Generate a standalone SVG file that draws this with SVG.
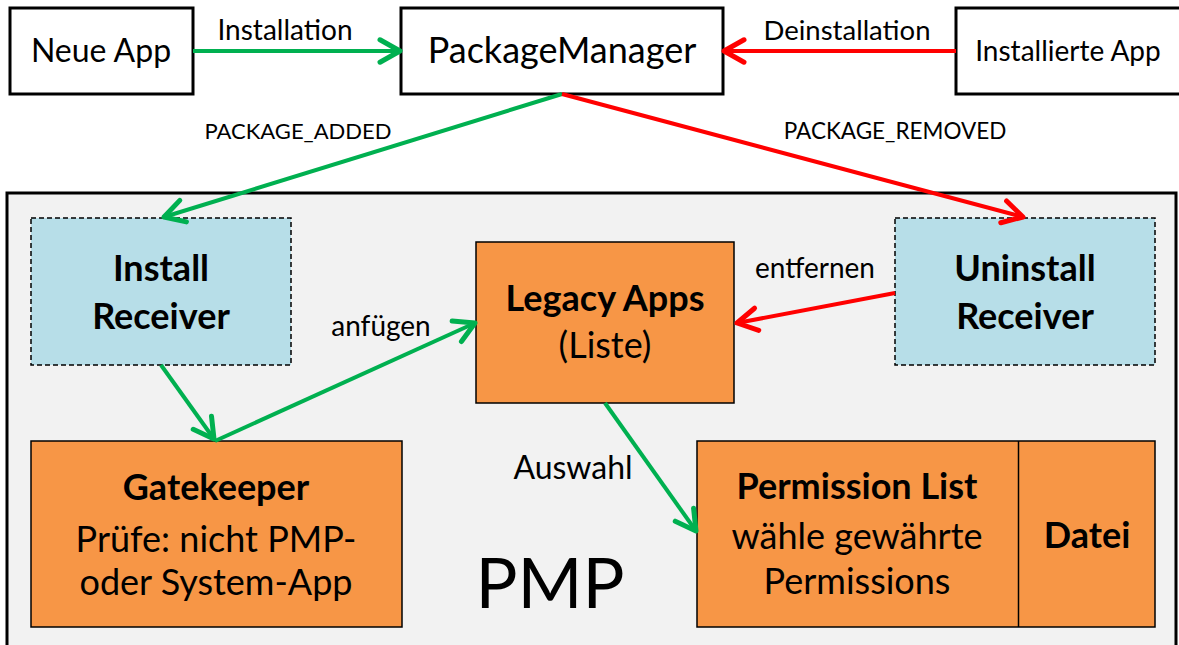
<svg xmlns="http://www.w3.org/2000/svg" width="1179" height="645" viewBox="0 0 1179 645">
  <style>
    text { font-family: Lato, "Open Sans", sans-serif; fill: #000; }
    .c { text-anchor: middle; }
    .b { font-weight: bold; }
    .t { font-size: 36px; }
    .top { fill: #fff; stroke: #000; stroke-width: 3; }
    .recv { fill: #b7dee8; stroke: #000; stroke-width: 1.5; stroke-dasharray: 5 3; }
    .box { fill: #f79646; stroke: #000; stroke-width: 1.5; }
    .g { stroke: #00b050; stroke-width: 4; fill: none; }
    .r { stroke: #ff0000; stroke-width: 4; fill: none; }
  </style>
  <defs>
    <marker id="ag" markerUnits="userSpaceOnUse" markerWidth="30" markerHeight="30" viewBox="-20 -12 24 24" refX="0" refY="0" orient="auto">
      <path d="M -16 -9 L 0 0 L -16 9" fill="none" stroke="#00b050" stroke-width="4" stroke-linecap="round" stroke-linejoin="round"/>
    </marker>
    <marker id="ar" markerUnits="userSpaceOnUse" markerWidth="30" markerHeight="30" viewBox="-20 -12 24 24" refX="0" refY="0" orient="auto">
      <path d="M -16 -9 L 0 0 L -16 9" fill="none" stroke="#ff0000" stroke-width="4" stroke-linecap="round" stroke-linejoin="round"/>
    </marker>
  </defs>

  <rect width="1179" height="645" fill="#fff"/>

  <!-- PMP container -->
  <g id="pmp">
    <rect x="7" y="193" width="1169" height="470" fill="#f2f2f2" stroke="#000" stroke-width="3"/>
    <text class="c" x="550" y="608" font-size="70">PMP</text>
  </g>

  <g id="neue-app">
    <rect class="top" x="10" y="8" width="183" height="86"/>
    <text class="c" x="101" y="62" font-size="32">Neue App</text>
  </g>
  <g id="package-manager">
    <rect class="top" x="401" y="8" width="322" height="86"/>
    <text class="c" x="562" y="63" font-size="36">PackageManager</text>
  </g>
  <g id="installierte-app">
    <rect class="top" x="956" y="8" width="228" height="86"/>
    <text class="c" x="1068" y="61" font-size="28">Installierte App</text>
  </g>

  <g id="install-receiver">
    <rect class="recv" x="31" y="218" width="260" height="147"/>
    <text class="c b t" x="161" y="281">Install</text>
    <text class="c b t" x="161" y="329">Receiver</text>
  </g>
  <g id="uninstall-receiver">
    <rect class="recv" x="895" y="218" width="260" height="147"/>
    <text class="c b t" x="1025" y="281">Uninstall</text>
    <text class="c b t" x="1025" y="329">Receiver</text>
  </g>
  <g id="legacy-apps">
    <rect class="box" x="476" y="242" width="258" height="161"/>
    <text class="c b t" x="605" y="311">Legacy Apps</text>
    <text class="c t" x="605" y="358">(Liste)</text>
  </g>
  <g id="gatekeeper">
    <rect class="box" x="31" y="441" width="371" height="186"/>
    <text class="c b t" x="216" y="500">Gatekeeper</text>
    <text class="c t" x="216" y="552">Prüfe: nicht PMP-</text>
    <text class="c t" x="216" y="595">oder System-App</text>
  </g>
  <g id="permission-list">
    <rect class="box" x="697" y="441" width="458" height="186"/>
    <line x1="1018.5" y1="441" x2="1018.5" y2="627" stroke="#000" stroke-width="1.5"/>
    <text class="c b t" x="857" y="499">Permission List</text>
    <text class="c t" x="857" y="549">wähle gewährte</text>
    <text class="c t" x="857" y="594">Permissions</text>
    <text class="c b t" x="1087" y="548">Datei</text>
  </g>

  <!-- connectors -->
  <g id="connectors">
    <line class="g" x1="193" y1="51" x2="400" y2="51" marker-end="url(#ag)"/>
    <line class="r" x1="956" y1="51" x2="724" y2="51" marker-end="url(#ar)"/>
    <line class="g" x1="562" y1="94" x2="164" y2="217" marker-end="url(#ag)"/>
    <line class="r" x1="562" y1="94" x2="1023" y2="217" marker-end="url(#ar)"/>
    <line class="g" x1="161" y1="365" x2="214" y2="439" marker-end="url(#ag)"/>
    <line class="g" x1="215" y1="441" x2="475" y2="323" marker-end="url(#ag)"/>
    <line class="r" x1="895" y1="293" x2="737" y2="323" marker-end="url(#ar)"/>
    <line class="g" x1="605" y1="403" x2="696" y2="531" marker-end="url(#ag)"/>

    <text class="c" x="285" y="40" font-size="28">Installation</text>
    <text class="c" x="847" y="40" font-size="27.5">Deinstallation</text>
    <text class="c" x="298" y="139" font-size="22">PACKAGE_ADDED</text>
    <text class="c" x="895" y="139" font-size="22.5">PACKAGE_REMOVED</text>
    <text class="c" x="381" y="336" font-size="28">anfügen</text>
    <text class="c" x="815" y="278" font-size="28">entfernen</text>
    <text class="c" x="573" y="479" font-size="32">Auswahl</text>
  </g>
</svg>
